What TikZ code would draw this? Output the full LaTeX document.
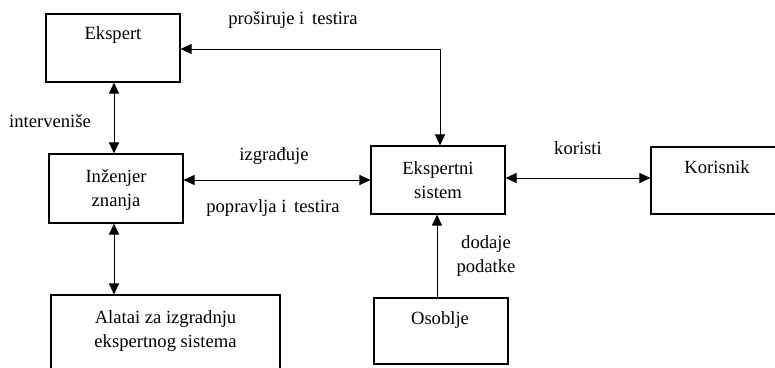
\documentclass[tikz,border=0pt]{standalone}
\usepackage{fontspec}
\setmainfont{Liberation Serif}
\usetikzlibrary{arrows.meta,calc}
\begin{document}
\begin{tikzpicture}[x=1pt,y=-1pt,
  box/.style={draw,line width=1.1pt,rectangle,inner sep=0pt},
  txt/.style={font=\fontsize{18.6}{23.5}\selectfont,inner sep=0pt,align=center},
  conn/.style={line width=1pt,-{Triangle[length=11pt,width=10pt]}},
  conn2/.style={line width=1pt,{Triangle[length=11pt,width=10pt]}-{Triangle[length=11pt,width=10pt]}}]
\clip (0,0) rectangle (775,367);
% boxes
\node[box,minimum width=134pt,minimum height=68pt] (ekspert) at (113,48) {};
\node[box,minimum width=134pt,minimum height=69pt] (inzenjer) at (116,188.5) {};
\node[box,minimum width=229pt,minimum height=80pt] (alatai) at (165.5,335) {};
\node[box,minimum width=134pt,minimum height=68pt] (ekspertni) at (438,180) {};
\node[box,minimum width=140pt,minimum height=67pt] (korisnik) at (721,180.5) {};
\node[box,minimum width=134pt,minimum height=66pt] (osoblje) at (441,331) {};
% box texts
\node[txt] (t-ekspert) at (113,35) {Ekspert};
\node[txt] (t-inzenjer) at (116,190) {Inženjer\\znanja};
\node[txt] (t-alatai) at (165.5,331) {Alatai za izgradnju\\ekspertnog sistema};
\node[txt] (t-ekspertni) at (438,180) {Ekspertni\\sistem};
\node[txt] (t-korisnik) at (717,167) {Korisnik};
\node[txt] (t-osoblje) at (440,320) {Osoblje};
% connector labels
\node[txt] (l-prosiruje) at (293,20) {proširuje i\, testira};
\node[txt] (l-intervenise) at (50,121) {interveniše};
\node[txt] (l-izgradjuje) at (274,156) {izgrađuje};
\node[txt] (l-popravlja) at (273,208) {popravlja i\, testira};
\node[txt] (l-koristi) at (578,148) {koristi};
\node[txt] (l-dodaje) at (486,256) {dodaje\\podatke};
% connectors
\coordinate (turn) at (440,49);
\draw[conn2] (ekspert.east |- turn) -- (turn) -- (ekspertni.north -| turn);
\draw[conn2] (ekspert.south -| 114,0) -- (inzenjer.north -| 114,0);
\draw[conn2] (inzenjer.east |- 0,180) -- (ekspertni.west |- 0,180);
\draw[conn2] (inzenjer.south -| 114,0) -- (alatai.north -| 114,0);
\draw[conn2] (ekspertni.east |- 0,178) -- (korisnik.west |- 0,178);
\draw[conn] (osoblje.north -| 437,0) -- (ekspertni.south -| 437,0);
\end{tikzpicture}
\end{document}
